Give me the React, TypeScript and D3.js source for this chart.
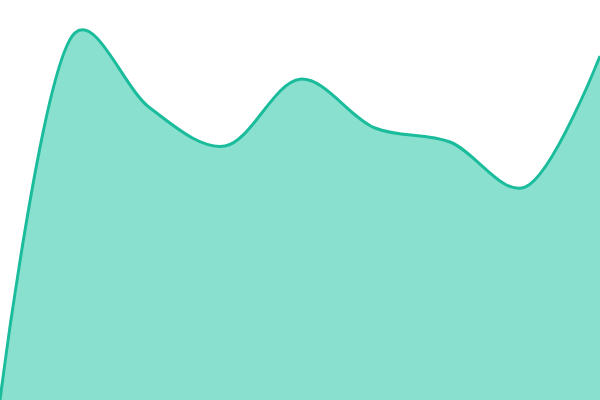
import React, { useEffect, useRef } from "react";
import * as d3 from "d3";

// values, one every 75px across the width
const xs = [0, 1, 2, 3, 4, 5, 6, 7, 8];
const values = [0, 91.8, 73, 63.5, 80.2, 68, 64.5, 53.2, 86];

const width = 600;
const height = 400;

const AreaChart: React.FC = () => {
  const svgRef = useRef<SVGSVGElement>(null);

  useEffect(() => {
    if (!svgRef.current) return;
    const svg = d3.select(svgRef.current);
    svg.selectAll("*").remove();

    const data = xs.map((x, i) => [x, values[i]] as [number, number]);

    const xScale = d3.scaleLinear().domain([0, 8]).range([0, width]);
    const yScale = d3.scaleLinear().domain([0, 100]).range([height, 0]);
    const curve = d3.curveCatmullRom.alpha(0.3);

    const area = d3
      .area<[number, number]>()
      .x((d) => xScale(d[0]))
      .y0(yScale(0))
      .y1((d) => yScale(d[1]))
      .curve(curve);

    const line = d3
      .line<[number, number]>()
      .x((d) => xScale(d[0]))
      .y((d) => yScale(d[1]))
      .curve(curve);

    svg
      .append("path")
      .datum(data)
      .attr("fill", "#89e0cf")
      .attr("d", area);

    svg
      .append("path")
      .datum(data)
      .attr("fill", "none")
      .attr("stroke", "#1abc9c")
      .attr("stroke-width", 3)
      .attr("d", line);
  }, []);

  return (
    <svg
      ref={svgRef}
      width={width}
      height={height}
      style={{ position: "absolute", left: 0, top: 0, display: "block" }}
    />
  );
};

export default function App() {
  return <AreaChart />;
}
